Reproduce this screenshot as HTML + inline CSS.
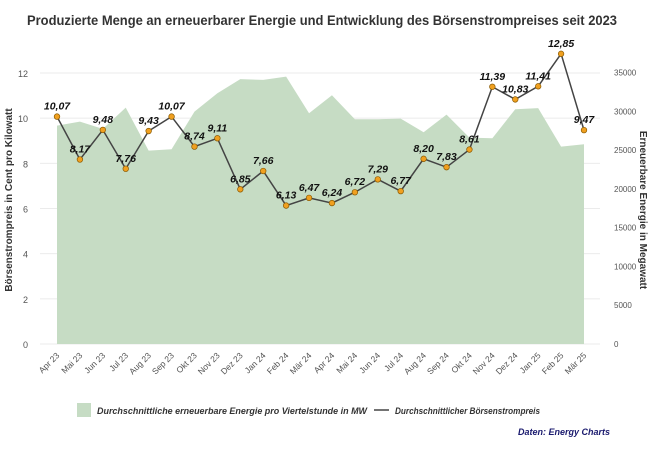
<!DOCTYPE html>
<html><head><meta charset="utf-8"><style>
body{margin:0;background:#fff;font-family:"Liberation Sans",sans-serif}
</style></head><body>
<svg id="chart" width="650" height="450" xmlns="http://www.w3.org/2000/svg" font-family="Liberation Sans, sans-serif">
<text x="322" y="25" text-anchor="middle" font-size="13.5" font-weight="bold" fill="#333" textLength="590" lengthAdjust="spacingAndGlyphs">Produzierte Menge an erneuerbarer Energie und Entwicklung des Börsenstrompreises seit 2023</text>
<g id="grid"></g><g id="area"></g><g id="line"></g><g id="labels"></g><g id="axes"></g>
<text transform="translate(12,200) rotate(-90)" text-anchor="middle" font-size="10" font-weight="bold" fill="#333">Börsenstrompreis in Cent pro Kilowatt</text>
<text transform="translate(640,210) rotate(90)" text-anchor="middle" font-size="10" font-weight="bold" fill="#333">Erneuerbare Energie in Megawatt</text>
<rect x="77" y="403" width="14" height="14" fill="#c6dcc4"/>
<text x="97" y="414" font-size="9.5" font-style="italic" font-weight="bold" fill="#333" textLength="270" lengthAdjust="spacingAndGlyphs">Durchschnittliche erneuerbare Energie pro Viertelstunde in MW</text>
<line x1="374" y1="410" x2="389" y2="410" stroke="#444" stroke-width="1.5"/>
<text x="395" y="414" font-size="9.5" font-style="italic" font-weight="bold" fill="#333" textLength="145" lengthAdjust="spacingAndGlyphs">Durchschnittlicher Börsenstrompreis</text>
<text x="610" y="435" text-anchor="end" font-size="9" font-style="italic" font-weight="bold" fill="#1a1a6e">Daten: Energy Charts</text>
</svg>
<script>
const categories=["Apr 23","Mai 23","Jun 23","Jul 23","Aug 23","Sep 23","Okt 23","Nov 23","Dez 23","Jan 24","Feb 24","Mär 24","Apr 24","Mai 24","Jun 24","Jul 24","Aug 24","Sep 24","Okt 24","Nov 24","Dez 24","Jan 25","Feb 25","Mär 25"];
const price=[10.07,8.17,9.48,7.76,9.43,10.07,8.74,9.11,6.85,7.66,6.13,6.47,6.24,6.72,7.29,6.77,8.20,7.83,8.61,11.39,10.83,11.41,12.85,9.47];
const energy=[28150,28670,27730,30470,24930,25110,29960,32330,34140,34050,34470,29750,32070,28980,28980,29060,27300,29570,26600,26520,30270,30400,25440,25750];
const leftTicks=[0,2,4,6,8,10,12];
const rightTicks=[0,5000,10000,15000,20000,25000,30000,35000];
const priceLabels=["10,07","8,17","9,48","7,76","9,43","10,07","8,74","9,11","6,85","7,66","6,13","6,47","6,24","6,72","7,29","6,77","8,20","7,83","8,61","11,39","10,83","11,41","12,85","9,47"];
const NS="http://www.w3.org/2000/svg";
const x0=57,x1=584,yb=344;
const xs=i=>x0+i*(x1-x0)/(categories.length-1);
const yl=v=>yb-v*(yb-73)/12;
const yr=v=>yb-v*(yb-72.5)/35000;
function mk(t,a,p){const e=document.createElementNS(NS,t);for(const k in a)e.setAttribute(k,a[k]);document.getElementById(p).appendChild(e);return e;}
leftTicks.forEach(v=>{const g=mk('line',{x1:40,x2:600,y1:yl(v),y2:yl(v),stroke:'#ebebeb','stroke-width':1},'grid');


const t=mk('text',{x:28,y:yl(v)+4,'text-anchor':'end','font-size':9,fill:'#555'},'axes');t.textContent=v;

});
rightTicks.forEach(v=>{const t=mk('text',{x:614,y:yr(v)+3,'font-size':8,fill:'#555'},'axes');t.textContent=v;

});
let d='M'+xs(0)+','+yb;energy.forEach((v,i)=>d+=' L'+xs(i)+','+yr(v));d+=' L'+xs(energy.length-1)+','+yb+' Z';
const ar=mk('path',{d:d,fill:'#c6dcc4'},'area');


const ln=mk('polyline',{points:price.map((v,i)=>xs(i)+','+yl(v)).join(' '),fill:'none',stroke:'#444','stroke-width':1.5},'line');


price.forEach((v,i)=>{const c=mk('circle',{cx:xs(i),cy:yl(v),r:2.8,fill:'#f0a020',stroke:'#8a5a00','stroke-width':0.7},'line');


const t=mk('text',{x:xs(i),y:yl(v)-7,'text-anchor':'middle','font-size':10.5,'font-weight':'bold','font-style':'italic',fill:'#111'},'labels');t.textContent=priceLabels[i];

});
categories.forEach((c,i)=>{const t=mk('text',{transform:'translate('+(xs(i)+3)+',356) rotate(-45)','text-anchor':'end','font-size':8.5,fill:'#555'},'axes');t.textContent=c;

});
</script>
</body></html>
